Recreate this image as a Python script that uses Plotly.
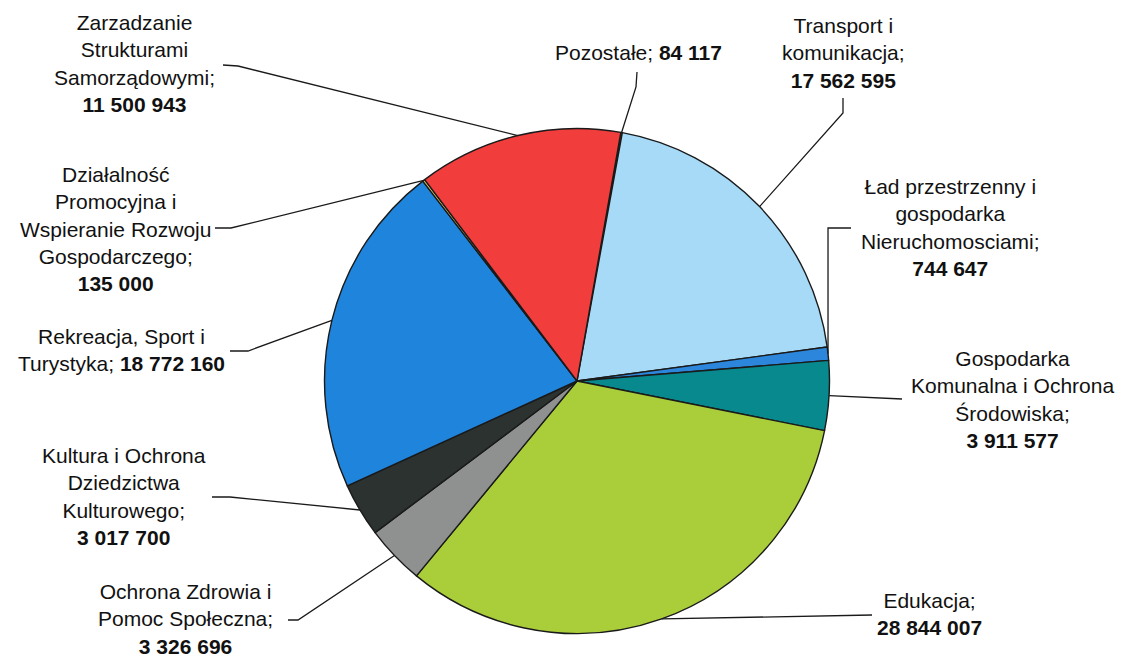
import math
import plotly.graph_objects as go

# ---- data (clockwise from the first slice) ----
categories = [
    "Pozostałe",
    "Transport i komunikacja",
    "Ład przestrzenny i gospodarka Nieruchomosciami",
    "Gospodarka Komunalna i Ochrona Środowiska",
    "Edukacja",
    "Ochrona Zdrowia i Pomoc Społeczna",
    "Kultura i Ochrona Dziedzictwa Kulturowego",
    "Rekreacja, Sport i Turystyka",
    "Działalność Promocyjna i Wspieranie Rozwoju Gospodarczego",
    "Zarzadzanie Strukturami Samorządowymi",
]
values = [84117, 17562595, 744647, 3911577, 28844007,
          3326696, 3017700, 18772160, 135000, 11500943]

# wrapped label text (same order)
label_lines = [
    ["Pozostałe;"],
    ["Transport i", "komunikacja;"],
    ["Ład przestrzenny i", "gospodarka", "Nieruchomosciami;"],
    ["Gospodarka", "Komunalna i Ochrona", "Środowiska;"],
    ["Edukacja;"],
    ["Ochrona Zdrowia i", "Pomoc Społeczna;"],
    ["Kultura i Ochrona", "Dziedzictwa", "Kulturowego;"],
    ["Rekreacja, Sport i", "Turystyka;"],
    ["Działalność", "Promocyjna i", "Wspieranie Rozwoju", "Gospodarczego;"],
    ["Zarzadzanie", "Strukturami", "Samorządowymi;"],
]
value_inline = [True, False, False, False, False, False, False, True, False, False]

colors = ["#f3dfae", "#a6daf6", "#2c87dc", "#08898d", "#aacd3a",
          "#8f9090", "#2b3230", "#1f84dc", "#d8c060", "#f23d3d"]

# ---- layout geometry (page pixels) ----
W, H = 1127, 659
CX, CY, R = 577.0, 381.0, 252.5
ROTATION = 10.0
FONT = "Arial, 'Liberation Sans', sans-serif"
FSIZE = 21

# label block centres (px) and leader elbow points (px), per slice
label_pos = [(638, 52), (843, 53), (950, 227), (1012, 399), (929, 614),
             (185, 619), (124, 496), (121, 350), (115, 229), (134, 63)]
elbows = [
    [(636, 87), (637, 72)],
    [(843, 113), (843, 98)],
    [("edge", 228), (851, 228)],
    [(902, 399)],
    [(872, 615)],
    [(298, 620), (288, 620)],
    [(230, 497), (212, 497)],
    [(248, 351), (230, 351)],
    [(231, 228), (215, 228)],
    [(238, 66), (223, 65)],
]


def px2paper(x, y):
    return x / W, 1 - y / H


fig = go.Figure()
x0, y1 = px2paper(CX - R, CY - R)
x1, y0 = px2paper(CX + R, CY + R)
fig.add_trace(go.Pie(
    labels=categories, values=values, sort=False, direction="clockwise",
    rotation=ROTATION, textinfo="none", hoverinfo="label+value",
    marker=dict(colors=colors, line=dict(color="#1a1a1a", width=1.4)),
    domain=dict(x=[x0, x1], y=[y0, y1]),
    showlegend=False,
))

total = float(sum(values))
cum = 0.0
shapes = []
annotations = []
for i, v in enumerate(values):
    mid = math.radians(ROTATION + (cum + v / 2) / total * 360.0)
    cum += v
    ex, ey = CX + R * math.sin(mid), CY - R * math.cos(mid)
    pts = [(ex, ey)]
    for (x, y) in elbows[i]:
        if x == "edge":
            x = ex
        pts.append((x, y))
    path = ""
    for k, (x, y) in enumerate(pts):
        px, py = px2paper(x, y)
        path += ("M" if k == 0 else " L") + f" {px:.5f},{py:.5f}"
    shapes.append(dict(type="path", path=path, xref="paper", yref="paper",
                       line=dict(color="#1a1a1a", width=1.3)))

    num = f"{values[i]:,}".replace(",", " ")
    lines = list(label_lines[i])
    if value_inline[i]:
        lines[-1] = lines[-1] + f" <b>{num}</b>"
    else:
        lines.append(f"<b>{num}</b>")
    tx, ty = px2paper(*label_pos[i])
    annotations.append(dict(
        text="<br>".join(lines), x=tx, y=ty, xref="paper", yref="paper",
        xanchor="center", yanchor="middle", align="center", showarrow=False,
        font=dict(family=FONT, size=FSIZE, color="#111111"), borderpad=0))

fig.update_layout(
    width=W, height=H, margin=dict(l=0, r=0, t=0, b=0),
    paper_bgcolor="white", plot_bgcolor="white",
    shapes=shapes, annotations=annotations,
)
fig.write_html(
    "out.html",
    config={"displayModeBar": False},
    post_script="document.body.style.margin='0';document.body.style.overflow='hidden';",
)
